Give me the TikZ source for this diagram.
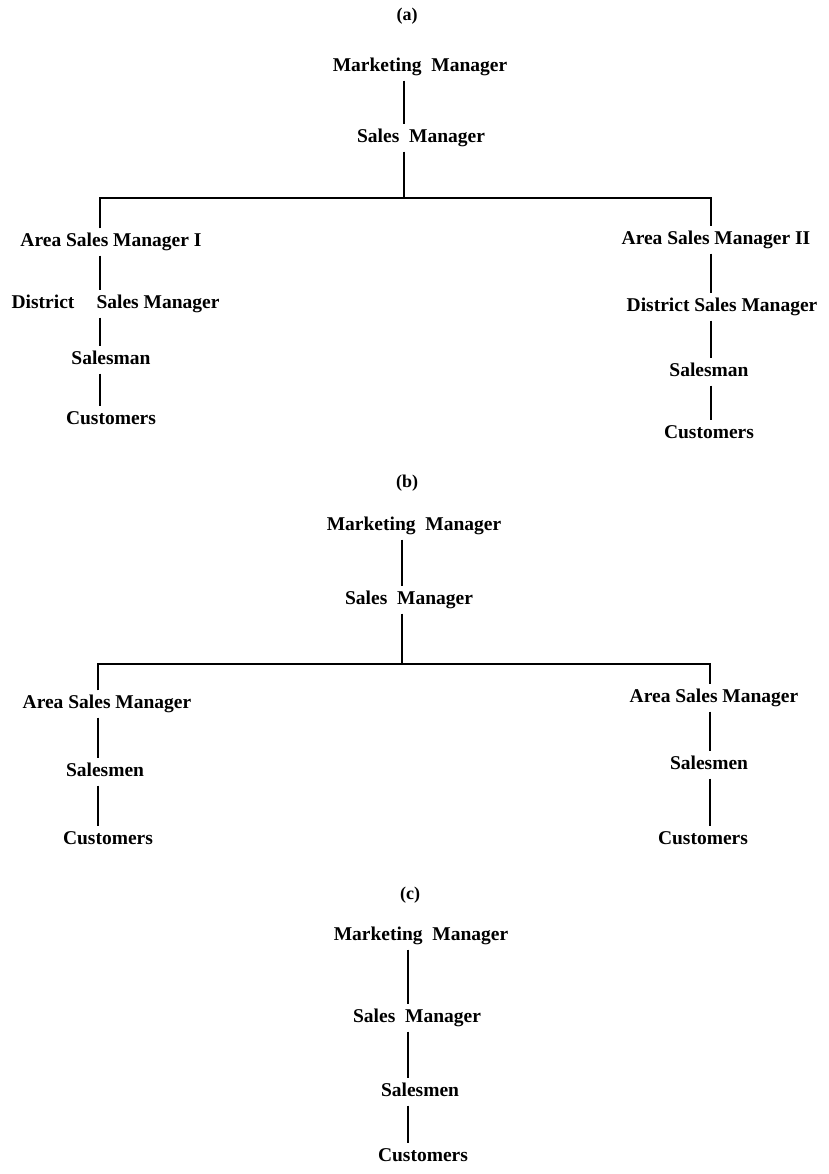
\documentclass[tikz,border=0pt]{standalone}
\usepackage{fontspec}
\setmainfont{Liberation Serif}
\begin{document}
\begin{tikzpicture}[x=1pt,y=-1pt,
  lbl/.style={font=\fontsize{19.5}{22}\selectfont\bfseries, inner xsep=0pt, inner ysep=5pt, text height=13pt, text depth=4pt},
  captxt/.style={font=\fontsize{18}{20}\selectfont\bfseries, inner sep=0pt},
  conn/.style={line width=1.8pt},
  bar/.style={line width=2.2pt}]
\useasboundingbox (0,0) rectangle (829,1174);

% ---------- (a) ----------
\node[captxt] (capa) at (407,16) {(a)};
\node[lbl] (mma) at (420,67) {Marketing\ \ Manager};
\node[lbl] (sma) at (421,138) {Sales\ \ Manager};
\coordinate (xa0) at (404,0);
\coordinate (ja) at (404,198);
\coordinate (xal) at (100,0);
\coordinate (xar) at (711,0);
\node[lbl] (asmaI) at (111,242) {Area Sales Manager I};
\node[lbl] (dista) at (43,304) {District};
\node[lbl] (dsmaL) at (158,304) {Sales Manager};
\node[lbl] (slaL) at (111,360) {Salesman};
\node[lbl] (cuaL) at (111,420) {Customers};
\node[lbl] (asmaII) at (716,240) {Area Sales Manager II};
\node[lbl] (dsmaR) at (722,307) {District Sales Manager};
\node[lbl] (slaR) at (709,372) {Salesman};
\node[lbl] (cuaR) at (709,434) {Customers};

\draw[conn] (mma.south -| xa0) -- (sma.north -| xa0);
\draw[conn] (sma.south -| xa0) -- (ja);
\draw[bar] (asmaI.north -| xal) |- (ja) -| (asmaII.north -| xar);
\draw[conn] (asmaI.south -| xal) -- (dsmaL.north -| xal);
\draw[conn] (dsmaL.south -| xal) -- (slaL.north -| xal);
\draw[conn] (slaL.south -| xal) -- (cuaL.north -| xal);
\draw[conn] (asmaII.south -| xar) -- (dsmaR.north -| xar);
\draw[conn] (dsmaR.south -| xar) -- (slaR.north -| xar);
\draw[conn] (slaR.south -| xar) -- (cuaR.north -| xar);

% ---------- (b) ----------
\node[captxt] (capb) at (407,483) {(b)};
\node[lbl] (mmb) at (414,526) {Marketing\ \ Manager};
\node[lbl] (smb) at (409,600) {Sales\ \ Manager};
\coordinate (xb0) at (402,0);
\coordinate (jb) at (402,664);
\coordinate (xbl) at (98,0);
\coordinate (xbr) at (710,0);
\node[lbl] (asmbL) at (107,704) {Area Sales Manager};
\node[lbl] (slbL) at (105,772) {Salesmen};
\node[lbl] (cubL) at (108,840) {Customers};
\node[lbl] (asmbR) at (714,698) {Area Sales Manager};
\node[lbl] (slbR) at (709,765) {Salesmen};
\node[lbl] (cubR) at (703,840) {Customers};

\draw[conn] (mmb.south -| xb0) -- (smb.north -| xb0);
\draw[conn] (smb.south -| xb0) -- (jb);
\draw[bar] (asmbL.north -| xbl) |- (jb) -| (asmbR.north -| xbr);
\draw[conn] (asmbL.south -| xbl) -- (slbL.north -| xbl);
\draw[conn] (slbL.south -| xbl) -- (cubL.north -| xbl);
\draw[conn] (asmbR.south -| xbr) -- (slbR.north -| xbr);
\draw[conn] (slbR.south -| xbr) -- (cubR.north -| xbr);

% ---------- (c) ----------
\node[captxt] (capc) at (410,895) {(c)};
\node[lbl] (mmc) at (421,936) {Marketing\ \ Manager};
\node[lbl] (smc) at (417,1018) {Sales\ \ Manager};
\node[lbl] (slc) at (420,1092) {Salesmen};
\node[lbl] (cuc) at (423,1157) {Customers};
\coordinate (xc0) at (408,0);
\draw[conn] (mmc.south -| xc0) -- (smc.north -| xc0);
\draw[conn] (smc.south -| xc0) -- (slc.north -| xc0);
\draw[conn] (slc.south -| xc0) -- (cuc.north -| xc0);
\end{tikzpicture}
\end{document}
